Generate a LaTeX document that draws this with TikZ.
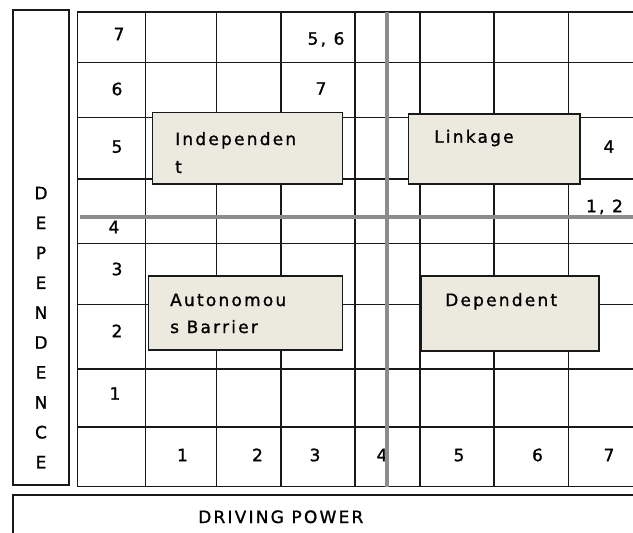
\documentclass[tikz,border=0pt]{standalone}
\usepackage{fontspec}
\newfontfamily\lsfont{DejaVu Sans}[LetterSpace=13,FakeBold=1.2]
\newfontfamily\plfont{DejaVu Sans}[FakeBold=1.2]
\definecolor{boxfill}{RGB}{236,233,223}
\definecolor{divgray}{RGB}{140,140,140}
\definecolor{linec}{RGB}{25,25,25}
\begin{document}
\begin{tikzpicture}[x=1pt,y=-1pt,
  gridline/.style={line width=1.5pt, draw=linec},
  divider/.style={line width=4pt, draw=divgray},
  qbox/.style={draw=linec, line width=1.5pt, fill=boxfill, inner sep=0pt, anchor=north west},
  frame/.style={draw=linec, line width=1.5pt, fill=none, inner sep=0pt, anchor=north west},
  num/.style={font=\plfont\fontsize{17}{20}\selectfont, inner sep=0pt, anchor=base},
  nums/.style={font=\lsfont\fontsize{17}{20}\selectfont, inner sep=0pt, anchor=base},
  lbl/.style={font=\lsfont\fontsize{17}{20}\selectfont, inner sep=0pt, anchor=base west}]
\clip (0,0) rectangle (633,533);
\fill[white] (0,0) rectangle (633,533);
% grid
\foreach \yy in {12,62.3,117.3,179,243.3,304.5,369,426.8,486.7}
  \draw[gridline] (77.3,\yy) -- (640,\yy);
\foreach \xx in {77.3,145.7,216.7,281,355,420,494,568.3}
  \draw[gridline] (\xx,12) -- (\xx,486.7);
% outer frames
\node[frame, minimum width=56pt, minimum height=475pt] (depbox) at (12.3,9) {};
\node[frame, minimum width=640pt, minimum height=60pt] (drvbox) at (12.3,494.3) {};
% row labels
\node[num] (r7) at (119,40.2) {7};
\node[num] (r6) at (117,95.2) {6};
\node[num] (r5) at (117,152.7) {5};
\node[num] (r4) at (114,233.2) {4};
\node[num] (r3) at (117,275.2) {3};
\node[num] (r2) at (117,337.2) {2};
\node[num] (r1) at (115,399.7) {1};
% column labels
\node[num] (c1) at (182.5,461.2) {1};
\node[num] (c2) at (257.5,461.2) {2};
\node[num] (c3) at (315,461.2) {3};
\node[num] (c4) at (382,461.2) {4};
\node[num] (c5) at (459,461.2) {5};
\node[num] (c6) at (537.5,461.2) {6};
\node[num] (c7) at (609,461.2) {7};
% entries
\node[nums] (e56) at (326,44.7) {5, 6};
\node[num] (e7) at (321,94.7) {7};
\node[num] (e4) at (609,152.7) {4};
\node[nums] (e12) at (604.5,212.2) {1, 2};
% dividers
\draw[divider] (386.7,12) -- (386.7,486.7);
\draw[divider] (80,217.3) -- (640,217.3);
% quadrant boxes
\node[qbox, minimum width=190pt, minimum height=71.6pt] (indep) at (151.7,111.7) {};
\node[qbox, minimum width=171.6pt, minimum height=70pt] (link) at (407.7,113.3) {};
\node[qbox, minimum width=194pt, minimum height=74.3pt] (auto) at (147.7,275) {};
\node[qbox, minimum width=178.3pt, minimum height=75pt] (dep) at (420,275) {};
\node[lbl] (indept1) at (175,145) {Independen};
\node[lbl] (indept2) at (175,173) {t};
\node[lbl] (linkt) at (434,142.7) {Linkage};
\node[lbl] (autot1) at (170,306) {Autonomou};
\node[lbl] (autot2) at (170,333) {s Barrier};
\node[lbl] (dept) at (445,306) {Dependent};
% axis titles
\node[lbl] (drvt) at (198,523) {DRIVING POWER};
\foreach \L [count=\i from 0] in {D,E,P,E,N,D,E,N,C,E}
  \node[num] (dl\i) at (41,{199.2+29.9*\i}) {\L};
\end{tikzpicture}
\end{document}
